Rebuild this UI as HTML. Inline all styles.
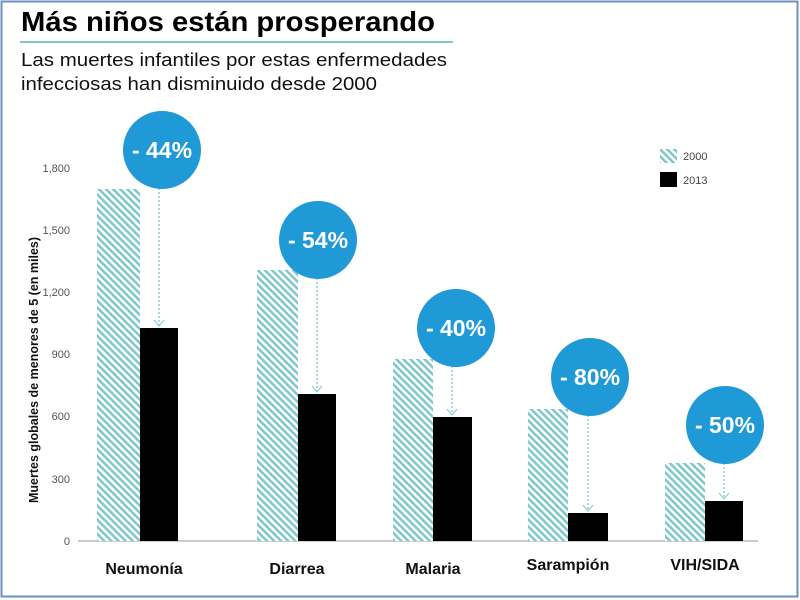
<!DOCTYPE html>
<html><head><meta charset="utf-8"><style>
body{margin:0;background:#fff;}
svg{display:block;}
</style></head><body>
<svg width="800" height="600" xmlns="http://www.w3.org/2000/svg">
<defs>
<pattern id="h" width="5" height="5" patternUnits="userSpaceOnUse" patternTransform="rotate(-45)">
<rect width="5" height="5" fill="#fff"/><rect width="2.5" height="5" fill="#7ec8cc"/>
</pattern>
</defs>
<rect x="1.5" y="1.5" width="796" height="595" fill="#fff" stroke="#6f8fc0" stroke-width="2"/>
<text x="21" y="31" font-family="Liberation Sans, sans-serif" font-weight="bold" font-size="28" fill="#000" textLength="414" lengthAdjust="spacingAndGlyphs">Más niños están prosperando</text>
<line x1="20" y1="42" x2="453" y2="42" stroke="#7ec8cc" stroke-width="2"/>
<text x="21" y="66" font-family="Liberation Sans, sans-serif" font-size="18" fill="#111" textLength="426" lengthAdjust="spacingAndGlyphs">Las muertes infantiles por estas enfermedades</text>
<text x="21" y="90" font-family="Liberation Sans, sans-serif" font-size="18" fill="#111" textLength="356" lengthAdjust="spacingAndGlyphs">infecciosas han disminuido desde 2000</text>
<g font-family="Liberation Sans, sans-serif" font-size="11" fill="#555" text-anchor="end">
<text x="70" y="172">1,800</text><text x="70" y="234">1,500</text><text x="70" y="296">1,200</text>
<text x="70" y="358">900</text><text x="70" y="420">600</text><text x="70" y="483">300</text><text x="70" y="545">0</text>
</g>
<text transform="translate(38,370) rotate(-90)" text-anchor="middle" font-family="Liberation Sans, sans-serif" font-weight="bold" font-size="12.5" fill="#111">Muertes globales de menores de 5 (en miles)</text>
<line x1="78" y1="541" x2="758" y2="541" stroke="#bbb" stroke-width="1.5"/>
<g fill="url(#h)">
<rect x="97" y="189" width="43" height="352"/>
<rect x="257" y="270" width="41" height="271"/>
<rect x="393" y="359" width="40" height="182"/>
<rect x="528" y="409" width="40" height="132"/>
<rect x="665" y="463" width="40" height="78"/>
</g>
<g fill="#000">
<rect x="140" y="328" width="38" height="213"/>
<rect x="298" y="394" width="38" height="147"/>
<rect x="433" y="417" width="39" height="124"/>
<rect x="568" y="513" width="40" height="28"/>
<rect x="705" y="501" width="38" height="40"/>
</g>
<g stroke="#8ccfd6" stroke-width="1.5" stroke-dasharray="2,2" fill="none">
<line x1="159" y1="188" x2="159" y2="326"/>
<line x1="317" y1="278" x2="317" y2="392"/>
<line x1="452" y1="366" x2="452" y2="415"/>
<line x1="588" y1="415" x2="588" y2="511"/>
<line x1="724" y1="463" x2="724" y2="499"/>
</g>
<g stroke="#8ccfd6" stroke-width="1.2" fill="none">
<polyline points="154,320 159,326 164,320"/><polyline points="312,386 317,392 322,386"/>
<polyline points="447,409 452,415 457,409"/><polyline points="583,505 588,511 593,505"/>
<polyline points="719,493 724,499 729,493"/>
</g>
<g fill="#1f9ad6">
<circle cx="162" cy="150" r="39"/><circle cx="318" cy="240" r="39"/><circle cx="456" cy="328" r="39"/>
<circle cx="590" cy="377" r="39"/><circle cx="725" cy="425" r="39"/>
</g>
<g font-family="Liberation Sans, sans-serif" font-weight="bold" font-size="23" fill="#fff" text-anchor="middle">
<text x="162" y="158">- 44%</text><text x="318" y="248">- 54%</text><text x="456" y="336">- 40%</text>
<text x="590" y="385">- 80%</text><text x="725" y="433">- 50%</text>
</g>
<g font-family="Liberation Sans, sans-serif" font-weight="bold" font-size="16" fill="#111" text-anchor="middle">
<text x="144" y="574">Neumonía</text><text x="297" y="574">Diarrea</text><text x="433" y="574">Malaria</text>
<text x="568" y="570">Sarampión</text><text x="705" y="570">VIH/SIDA</text>
</g>
<rect x="660" y="149" width="17" height="14" fill="url(#h)"/>
<rect x="660" y="172" width="17" height="15" fill="#000"/>
<g font-family="Liberation Sans, sans-serif" font-size="11" fill="#444">
<text x="683" y="160">2000</text><text x="683" y="184">2013</text>
</g>
</svg>
</body></html>
